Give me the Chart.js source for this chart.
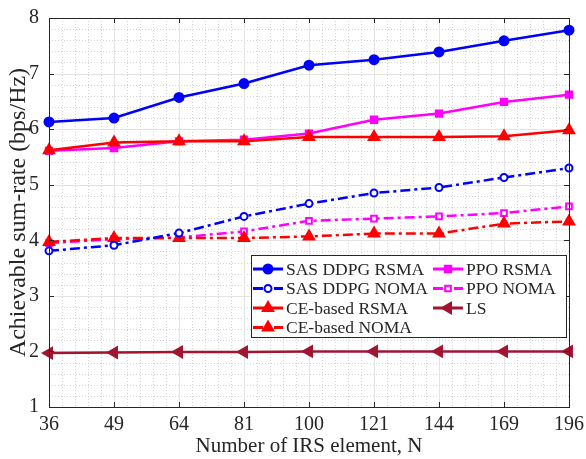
<!DOCTYPE html>
<html lang="en">
<head>
  <meta charset="UTF-8" />
  <title>Achievable sum-rate vs IRS elements</title>
  <script src="https://cdn.jsdelivr.net/npm/chart.js"></script>
  <style>
    html, body { margin: 0; padding: 0; background: #fff; }
    #wrap { width: 586px; height: 459px; }
  </style>
</head>
<body>
  <div id="wrap"><canvas id="chart" width="586" height="459"></canvas></div>

  <script>
    // values
    const irsLabels = ['36', '49', '64', '81', '100', '121', '144', '169', '196'];
    const yTicks = [1, 2, 3, 4, 5, 6, 7, 8];

    const sasDdpgRsma = [6.13, 6.20, 6.57, 6.82, 7.15, 7.25, 7.39, 7.59, 7.78];
    const sasDdpgNoma = [3.81, 3.91, 4.13, 4.43, 4.66, 4.85, 4.95, 5.13, 5.30];
    const ceRsma      = [5.62, 5.76, 5.78, 5.78, 5.86, 5.86, 5.86, 5.87, 5.98];
    const ceNoma      = [3.97, 4.04, 4.04, 4.04, 4.07, 4.12, 4.12, 4.30, 4.34];
    const ppoRsma     = [5.61, 5.66, 5.78, 5.81, 5.92, 6.17, 6.28, 6.49, 6.62];
    const ppoNoma     = [3.95, 4.02, 4.05, 4.16, 4.35, 4.39, 4.43, 4.49, 4.61];
    const lsRate      = [1.97, 1.98, 1.99, 1.99, 2.00, 2.00, 2.00, 2.00, 2.00];

    const BLUE = '#0000ff', MAG = '#ff00ff', RED = '#ff0000', LS = '#a2142f';
    const DASHDOT = [10, 4, 3, 4];
    const FONT = '"Liberation Serif", "DejaVu Serif", serif';

    function series(label, data, color, style, dashed, hollow, radius, rot) {
      return {
        label: label,
        data: data,
        borderColor: color,
        backgroundColor: color,
        borderWidth: 2.5,
        borderDash: dashed ? DASHDOT : [],
        pointStyle: style,
        pointRotation: rot || 0,
        pointRadius: radius,
        pointBorderWidth: 2,
        pointBackgroundColor: hollow ? '#ffffff' : color,
        pointBorderColor: color,
        tension: 0,
        fill: false
      };
    }

    const datasets = [
      series('SAS DDPG RSMA', sasDdpgRsma, BLUE, 'circle', false, false, 4.5),
      series('SAS DDPG NOMA', sasDdpgNoma, BLUE, 'circle', true, true, 3.5),
      series('CE-based RSMA', ceRsma, RED, 'triangle', false, false, 6),
      series('CE-based NOMA', ceNoma, RED, 'triangle', true, false, 6),
      series('PPO RSMA', ppoRsma, MAG, 'rect', false, false, 4.5),
      series('PPO NOMA', ppoNoma, MAG, 'rect', true, true, 4),
      series('LS', lsRate, LS, 'triangle', false, false, 6, -90)
    ];

    // MATLAB style grid, box, inward ticks and 2-column legend
    const matlabLook = {
      id: 'matlabLook',
      beforeDatasetsDraw(chart) {
        const { ctx, chartArea: a, scales: { x, y } } = chart;
        ctx.save();
        ctx.lineWidth = 1;
        // minor grid
        ctx.strokeStyle = '#d4d4d4';
        ctx.setLineDash([1, 2]);
        for (let i = 0; i < irsLabels.length - 1; i++) {
          for (let k = 1; k < 5; k++) {
            const px = Math.round(x.getPixelForValue(i + k / 5)) + 0.5;
            ctx.beginPath(); ctx.moveTo(px, a.top); ctx.lineTo(px, a.bottom); ctx.stroke();
          }
        }
        for (let v = yTicks[0]; v < yTicks[yTicks.length - 1]; v++) {
          for (let k = 1; k < 5; k++) {
            const py = Math.round(y.getPixelForValue(v + k / 5)) + 0.5;
            ctx.beginPath(); ctx.moveTo(a.left, py); ctx.lineTo(a.right, py); ctx.stroke();
          }
        }
        // major grid
        ctx.setLineDash([]);
        ctx.strokeStyle = '#e3e3e3';
        irsLabels.forEach((_, i) => {
          const px = Math.round(x.getPixelForValue(i)) + 0.5;
          ctx.beginPath(); ctx.moveTo(px, a.top); ctx.lineTo(px, a.bottom); ctx.stroke();
        });
        yTicks.forEach(v => {
          const py = Math.round(y.getPixelForValue(v)) + 0.5;
          ctx.beginPath(); ctx.moveTo(a.left, py); ctx.lineTo(a.right, py); ctx.stroke();
        });
        ctx.restore();
      },
      afterDatasetsDraw(chart) {
        const { ctx, chartArea: a, scales: { x, y } } = chart;
        ctx.save();
        ctx.strokeStyle = '#262626';
        ctx.lineWidth = 1;
        ctx.strokeRect(Math.round(a.left) + 0.5, Math.round(a.top) + 0.5,
          Math.round(a.right - a.left), Math.round(a.bottom - a.top));
        const t = 5;
        irsLabels.forEach((_, i) => {
          const px = Math.round(x.getPixelForValue(i)) + 0.5;
          ctx.beginPath();
          ctx.moveTo(px, a.bottom); ctx.lineTo(px, a.bottom - t);
          ctx.moveTo(px, a.top); ctx.lineTo(px, a.top + t);
          ctx.stroke();
        });
        yTicks.forEach(v => {
          const py = Math.round(y.getPixelForValue(v)) + 0.5;
          ctx.beginPath();
          ctx.moveTo(a.left, py); ctx.lineTo(a.left + t, py);
          ctx.moveTo(a.right, py); ctx.lineTo(a.right - t, py);
          ctx.stroke();
        });
        ctx.restore();
      },
      afterDraw(chart) {
        const { ctx } = chart;
        const box = { x: 251, y: 255, w: 315, h: 82 };
        const rowH = 19.5, firstRow = 269;
        const cols = [253, 433];
        ctx.save();
        ctx.fillStyle = '#ffffff';
        ctx.fillRect(box.x, box.y, box.w, box.h);
        ctx.strokeStyle = '#262626';
        ctx.lineWidth = 1;
        ctx.strokeRect(box.x + 0.5, box.y + 0.5, box.w, box.h);
        ctx.font = '17.5px ' + FONT;
        ctx.textBaseline = 'middle';
        chart.data.datasets.forEach((ds, i) => {
          const col = i < 4 ? 0 : 1;
          const row = i < 4 ? i : i - 4;
          const lx = cols[col], ly = firstRow + row * rowH;
          ctx.strokeStyle = ds.borderColor;
          ctx.lineWidth = 3;
          ctx.setLineDash(ds.borderDash);
          ctx.beginPath(); ctx.moveTo(lx, ly); ctx.lineTo(lx + 30, ly); ctx.stroke();
          ctx.setLineDash([]);
          ctx.fillStyle = ds.pointBackgroundColor;
          ctx.lineWidth = ds.pointBorderWidth;
          Chart.helpers.drawPoint(ctx, {
            pointStyle: ds.pointStyle, radius: ds.pointRadius,
            rotation: ds.pointRotation, borderWidth: ds.pointBorderWidth
          }, lx + 15, ly);
          ctx.fillStyle = '#262626';
          ctx.fillText(ds.label, lx + 33, ly + 1);
        });
        ctx.restore();
      }
    };

    new Chart(document.getElementById('chart'), {
      type: 'line',
      data: { labels: irsLabels, datasets: datasets },
      plugins: [matlabLook],
      options: {
        responsive: false,
        animation: false,
        layout: { padding: { top: 18, right: 17, left: 0, bottom: 0 } },
        plugins: { legend: { display: false }, tooltip: { enabled: false } },
        scales: {
          x: {
            offset: false,
            grid: { display: false, drawTicks: false },
            border: { display: false },
            ticks: { color: '#262626', font: { family: FONT, size: 20 }, padding: 6, maxRotation: 0 },
            title: {
              display: true, text: 'Number of IRS element, N', color: '#262626',
              font: { family: FONT, size: 21 }, padding: { top: 0, bottom: 0 }
            },
            afterFit(s) { s.height = 52; s.paddingLeft = 0; s.paddingRight = 0; }
          },
          y: {
            min: 1, max: 8,
            grid: { display: false, drawTicks: false },
            border: { display: false },
            ticks: { stepSize: 1, color: '#262626', font: { family: FONT, size: 20 }, padding: 10 },
            title: {
              display: true, text: 'Achievable sum-rate (bps/Hz)', color: '#262626',
              font: { family: FONT, size: 24 }, padding: { top: 4, bottom: 0 }
            },
            afterFit(s) { s.width = 49; s.paddingTop = 0; s.paddingBottom = 0; }
          }
        }
      }
    });
  </script>
</body>
</html>
